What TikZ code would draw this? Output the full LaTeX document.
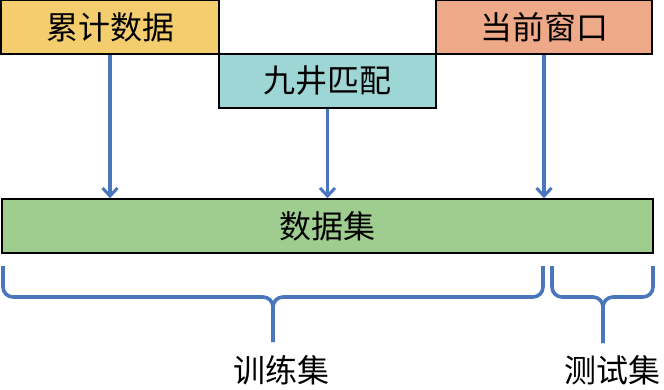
\documentclass[tikz,border=0pt]{standalone}
\usepackage{fontspec}
\usepackage{tikz}
\usetikzlibrary{arrows.meta,positioning}
\newfontfamily\cjk{Noto Sans CJK SC}
\definecolor{accfill}{HTML}{F3CD6E}
\definecolor{matchfill}{HTML}{9DD6D4}
\definecolor{winfill}{HTML}{EEA988}
\definecolor{setfill}{HTML}{9FCD8F}
\definecolor{flowblue}{HTML}{4A76BE}

\begin{document}
\begin{tikzpicture}[
  x=1pt, y=-1pt,
  >={Straight Barb[length=8pt,width=15pt,line width=3pt]},
  block/.style={draw=black, line width=1.6pt, inner sep=0pt,
                minimum height=54pt, font=\cjk\fontsize{32}{38}\selectfont},
  flow/.style={draw=flowblue, line width=3.4pt},
  brace/.style={draw=flowblue, line width=3.6pt, rounded corners=10pt},
  label/.style={font=\cjk\fontsize{32}{38}\selectfont, inner sep=0pt},
]
\useasboundingbox (0,0) rectangle (664,390);

% --- Source blocks ---
\node[block, fill=accfill,   minimum width=218pt] (acc) at (110,27)    {累计数据};
\node[block, fill=matchfill, minimum width=217pt] (nine) at (327.5,81) {九井匹配};
\node[block, fill=winfill,   minimum width=216pt] (win) at (544,27)    {当前窗口};

% --- Data set ---
\node[block, fill=setfill, minimum width=651pt] (data) at (327.5,226) {数据集};

% --- Arrows into the data set ---
\draw[flow,->] (acc.south)  -- (acc.south |- data.north);
\draw[flow,->] (nine.south) -- (nine.south |- data.north);
\draw[flow,->] (win.south)  -- (win.south |- data.north);

% --- Braces below the data set ---
\coordinate (trtip) at (273,342);
\coordinate (tetip) at (603,343);
\draw[brace] (3,266) -- (3,297) -- (trtip |- 0,297) -- (trtip);
\draw[brace] (trtip) -- (trtip |- 0,297) -- (543,297) -- (543,266);
\draw[brace] (552,266) -- (552,297) -- (tetip |- 0,297) -- (tetip);
\draw[brace] (tetip) -- (tetip |- 0,297) -- (653,297) -- (653,266);

% --- Brace labels ---
\node[label] (train) at (281,370) {训练集};
\node[label] (test)  at (612,370) {测试集};
\end{tikzpicture}
\end{document}
